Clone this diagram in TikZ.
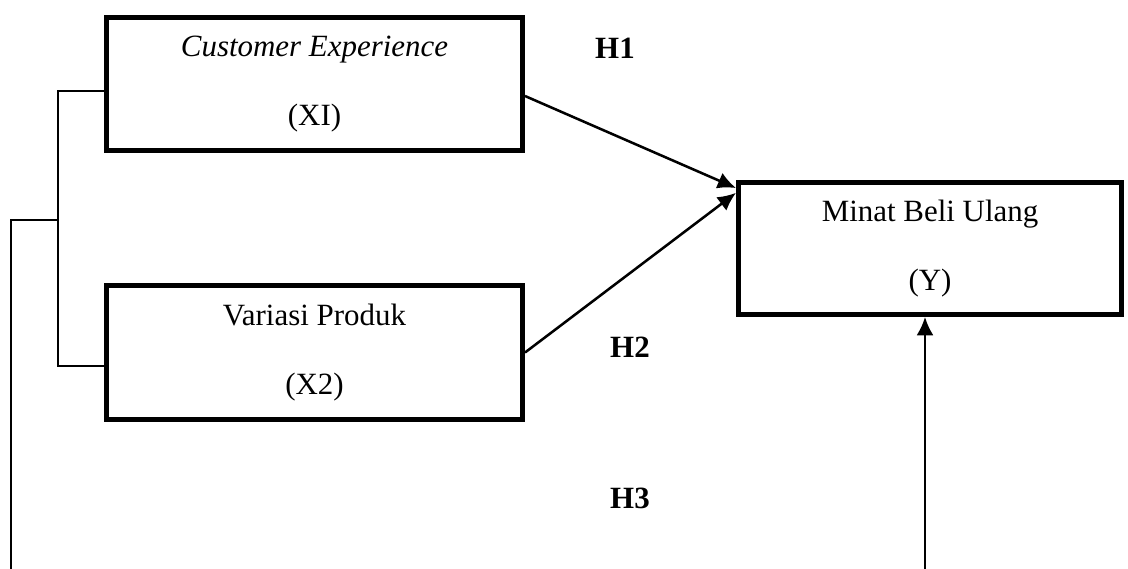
\documentclass[tikz,border=0pt]{standalone}
\usepackage{fontspec}
\setmainfont{Liberation Serif}
\usepackage{tikz}
\usetikzlibrary{arrows.meta}

\tikzset{
    varbox/.style={draw, line width=3.5pt, align=center, inner sep=0pt,
        font=\fontsize{22}{49.6}\selectfont},
    hlabel/.style={font=\fontsize{22}{26}\selectfont\bfseries},
    linkline/.style={line width=1.4pt},
    pathline/.style={-{Latex[length=13pt,width=12pt]}, line width=1.8pt}
}

\begin{document}
\begin{tikzpicture}[x=0.025cm, y=-0.025cm]
    \useasboundingbox (0,0) rectangle (1128,568);

    % Variable boxes
    \node[varbox, minimum width=10.4cm, minimum height=3.325cm] (X1) at (314.5,84)
        {\textit{Customer Experience}\\(XI)};
    \node[varbox, minimum width=10.4cm, minimum height=3.35cm] (X2) at (314.5,352.5)
        {Variasi Produk\\(X2)};
    \node[varbox, minimum width=9.575cm, minimum height=3.3cm] (Y) at (930,248.5)
        {Minat Beli Ulang\\(Y)};

    % Hypothesis labels
    \node[hlabel] (H1) at (615,48) {H1};
    \node[hlabel] (H2) at (630,347) {H2};
    \node[hlabel] (H3) at (630,498) {H3};

    % Corner points of the left line and the foot of the H3 arrow
    \coordinate (joint) at (58,220);
    \coordinate (corner) at (11,220);
    \coordinate (footL) at (11,570);
    \coordinate (footR) at (925,570);

    % Draw the bracket joining X1 and X2
    \draw[linkline] ([yshift=-0.175cm]X1.west) -| (joint) |- ([yshift=-0.34cm]X2.west);
    \draw[linkline] (joint) -- (corner) -- (footL);

    % Draw the hypothesis arrows
    \draw[pathline] ([yshift=-0.3cm]X1.east) -- ([yshift=-0.2cm]Y.north west);
    \draw[pathline] (X2.east) -- ([yshift=-0.32cm]Y.north west);
    \draw[pathline, line width=1.5pt] (footR) -- (footR |- Y.south);
\end{tikzpicture}
\end{document}
